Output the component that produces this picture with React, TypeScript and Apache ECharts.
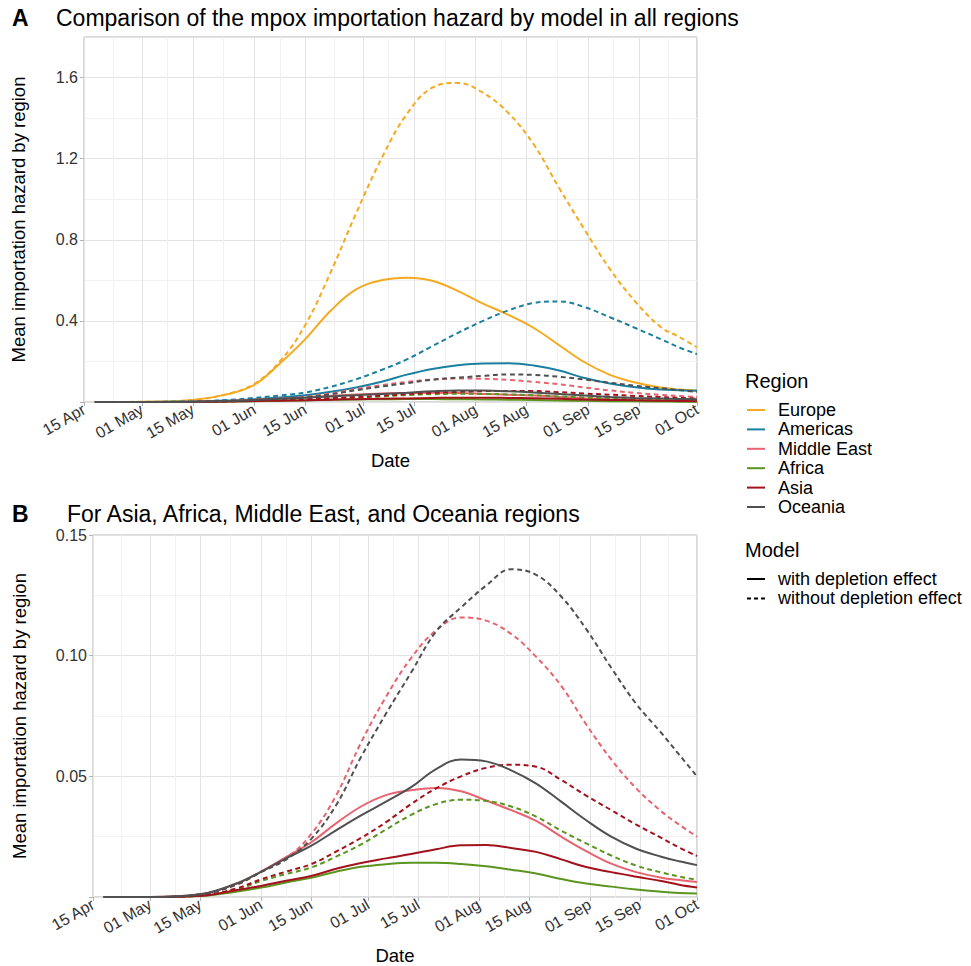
import React, { useEffect, useRef } from "react";
import * as echarts from "echarts";

// ---- data (day offsets from 15 Apr) ----
const DAYS = [3, 16, 30, 40, 47, 54, 61, 68, 75, 82, 89, 96, 103, 110, 117, 124, 131, 138, 145, 152, 159, 164, 169];
const TICK_DAYS = [0, 16, 30, 47, 61, 77, 91, 108, 122, 139, 153, 169];
const TICK_LABELS = ["15 Apr", "01 May", "15 May", "01 Jun", "15 Jun", "01 Jul", "15 Jul", "01 Aug", "15 Aug", "01 Sep", "15 Sep", "01 Oct"];

const EUROPE_WITH = [0, 0.001, 0.01, 0.04, 0.085, 0.19, 0.31, 0.45, 0.555, 0.6, 0.613, 0.598, 0.548, 0.485, 0.43, 0.365, 0.28, 0.196, 0.134, 0.096, 0.071, 0.062, 0.057];
const EUROPE_WITHOUT = [0, 0.001, 0.01, 0.042, 0.09, 0.2, 0.38, 0.64, 0.93, 1.2, 1.42, 1.55, 1.573, 1.525, 1.425, 1.27, 1.055, 0.85, 0.655, 0.495, 0.37, 0.322, 0.27];
const AMERICAS_WITH = [0, 0, 0.002, 0.007, 0.013, 0.022, 0.033, 0.05, 0.072, 0.1, 0.135, 0.163, 0.181, 0.19, 0.191, 0.18, 0.155, 0.118, 0.091, 0.073, 0.062, 0.058, 0.055];
const AMERICAS_WITHOUT = [0, 0, 0.003, 0.01, 0.02, 0.032, 0.047, 0.075, 0.112, 0.158, 0.21, 0.275, 0.34, 0.4, 0.452, 0.488, 0.496, 0.468, 0.418, 0.365, 0.31, 0.27, 0.236];
const MIDEAST_WITH = [0, 0, 0.0011, 0.0055, 0.0105, 0.0165, 0.0226, 0.0305, 0.0375, 0.0422, 0.0442, 0.0452, 0.0438, 0.04, 0.036, 0.0315, 0.025, 0.019, 0.0138, 0.0103, 0.008, 0.007, 0.0062];
const MIDEAST_WITHOUT = [0, 0, 0.0012, 0.005, 0.0105, 0.016, 0.026, 0.042, 0.064, 0.083, 0.099, 0.1105, 0.1158, 0.1145, 0.109, 0.0995, 0.0875, 0.0715, 0.057, 0.045, 0.0355, 0.03, 0.025];
const AFRICA_WITH = [0, 0, 0.0004, 0.0022, 0.0039, 0.006, 0.008, 0.0105, 0.0125, 0.0136, 0.0142, 0.0142, 0.0137, 0.0127, 0.0113, 0.0097, 0.0075, 0.0056, 0.0043, 0.0031, 0.0022, 0.0017, 0.0014];
const AFRICA_WITHOUT = [0, 0, 0.0005, 0.003, 0.0066, 0.0095, 0.0122, 0.0167, 0.0218, 0.028, 0.034, 0.0385, 0.0403, 0.0398, 0.0375, 0.0333, 0.0275, 0.0222, 0.0172, 0.013, 0.0102, 0.0085, 0.0071];
const ASIA_WITH = [0, 0, 0.0005, 0.0028, 0.0046, 0.0067, 0.0087, 0.0117, 0.0141, 0.016, 0.0178, 0.0198, 0.0214, 0.0215, 0.0203, 0.0187, 0.0156, 0.0124, 0.0103, 0.0084, 0.0066, 0.0051, 0.0039];
const ASIA_WITHOUT = [0, 0, 0.0006, 0.0035, 0.0073, 0.0105, 0.0136, 0.0188, 0.0245, 0.031, 0.0385, 0.045, 0.05, 0.0535, 0.0548, 0.054, 0.0485, 0.042, 0.036, 0.03, 0.0245, 0.0205, 0.017];
const OCEANIA_WITH = [0, 0, 0.0011, 0.0055, 0.0104, 0.016, 0.0212, 0.0276, 0.0338, 0.0395, 0.0455, 0.053, 0.057, 0.0562, 0.0525, 0.047, 0.0395, 0.0318, 0.025, 0.02, 0.0167, 0.0148, 0.0132];
const OCEANIA_WITHOUT = [0, 0, 0.0011, 0.005, 0.0103, 0.0155, 0.024, 0.038, 0.058, 0.076, 0.093, 0.11, 0.12, 0.129, 0.1358, 0.1335, 0.1245, 0.111, 0.095, 0.08, 0.068, 0.059, 0.05];

const REGIONS = ["Europe", "Americas", "Middle East", "Africa", "Asia", "Oceania"];
const MODELS = ["with depletion effect", "without depletion effect"];
const COLORS: Record<string, string> = {
  Europe: "#F5A91E",
  Americas: "#1B7F9F",
  "Middle East": "#E8636F",
  Africa: "#5B951F",
  Asia: "#A3121C",
  Oceania: "#505050",
};
const VALUES: Record<string, [number[], number[]]> = {
  Europe: [EUROPE_WITH, EUROPE_WITHOUT],
  Americas: [AMERICAS_WITH, AMERICAS_WITHOUT],
  "Middle East": [MIDEAST_WITH, MIDEAST_WITHOUT],
  Africa: [AFRICA_WITH, AFRICA_WITHOUT],
  Asia: [ASIA_WITH, ASIA_WITHOUT],
  Oceania: [OCEANIA_WITH, OCEANIA_WITHOUT],
};
const PANEL_B_REGIONS = ["Middle East", "Africa", "Asia", "Oceania"];

const FONT = "'Liberation Sans', Arial, Helvetica, sans-serif";
const MAJOR = "#E3E3E3";
const MINOR = "#F1F1F1";
const BORDER = "#B3B3B3";
const TICKTXT = "#333333";
const DASH = [5, 3.5];

const MINOR_DAYS = TICK_DAYS.slice(1).map((d, i) => (d + TICK_DAYS[i]) / 2);

function mainX(gridIndex: number) {
  return {
    type: "value",
    gridIndex,
    min: 0,
    max: 169,
    name: "Date",
    nameLocation: "middle",
    nameGap: 49,
    nameTextStyle: { fontSize: 18.5, color: "#000", fontFamily: FONT },
    axisLine: { show: false },
    axisTick: { show: true, customValues: TICK_DAYS, length: 4, lineStyle: { color: BORDER } },
    axisLabel: {
      customValues: TICK_DAYS,
      rotate: 30,
      fontSize: 16,
      color: TICKTXT,
      fontFamily: FONT,
      margin: 6,
      formatter: (v: number) => {
        const i = TICK_DAYS.indexOf(Math.round(v));
        return i >= 0 ? TICK_LABELS[i] : "";
      },
    },
    splitLine: { show: true, lineStyle: { color: MAJOR, width: 1 } },
  };
}
function minorX(gridIndex: number) {
  return {
    type: "value",
    gridIndex,
    min: 0,
    max: 169,
    position: "bottom",
    axisLine: { show: false },
    axisTick: { show: false, customValues: MINOR_DAYS },
    axisLabel: { show: false, customValues: MINOR_DAYS },
    splitLine: { show: true, lineStyle: { color: MINOR, width: 1 } },
    z: 0,
  };
}
function yAxis(gridIndex: number, max: number, interval: number, digits: number, gap: number) {
  return {
    type: "value",
    gridIndex,
    min: 0,
    max,
    interval,
    name: "Mean importation hazard by region",
    nameLocation: "middle",
    nameGap: gap,
    nameTextStyle: { fontSize: 18.5, color: "#000", fontFamily: FONT },
    axisLine: { show: false },
    axisTick: { show: true, length: 4, lineStyle: { color: BORDER } },
    axisLabel: {
      fontSize: 16,
      color: TICKTXT,
      fontFamily: FONT,
      margin: 6,
      showMaxLabel: digits === 2,
      formatter: (v: number) => (v === 0 ? "" : v.toFixed(digits)),
    },
    splitLine: { show: true, lineStyle: { color: MAJOR, width: 1 } },
    minorTick: { show: false, splitNumber: 2 },
    minorSplitLine: { show: true, lineStyle: { color: MINOR, width: 1 } },
  };
}

function seriesFor(region: string, modelIdx: number, panel: number) {
  const vals = VALUES[region][modelIdx];
  return {
    type: "line",
    name: `${region} – ${MODELS[modelIdx]}`,
    xAxisIndex: panel * 2,
    yAxisIndex: panel,
    data: DAYS.map((d, i) => [d, vals[i]]),
    showSymbol: false,
    symbol: "none",
    smooth: 0.4,
    silent: true,
    z: 3,
    lineStyle: { color: COLORS[region], width: 2, type: modelIdx === 0 ? "solid" : DASH },
  };
}

function legendGraphics() {
  const g: any[] = [];
  const x0 = 745;
  g.push({ type: "text", x: x0, y: 381, style: { text: "Region", fontSize: 20, fill: "#000", fontFamily: FONT, verticalAlign: "middle" } });
  REGIONS.forEach((r, i) => {
    const y = 410 + i * 19.4;
    g.push({ type: "line", shape: { x1: 747, y1: y, x2: 765, y2: y }, style: { stroke: COLORS[r], lineWidth: 2 } });
    g.push({ type: "text", x: 778, y, style: { text: r, fontSize: 18, fill: "#000", fontFamily: FONT, verticalAlign: "middle" } });
  });
  g.push({ type: "text", x: x0, y: 550, style: { text: "Model", fontSize: 20, fill: "#000", fontFamily: FONT, verticalAlign: "middle" } });
  MODELS.forEach((m, i) => {
    const y = 579 + i * 19.4;
    g.push({ type: "line", shape: { x1: 747, y1: y, x2: 765, y2: y }, style: { stroke: "#000", lineWidth: 2, lineDash: i === 0 ? null : [4, 3] } });
    g.push({ type: "text", x: 778, y, style: { text: m, fontSize: 18, fill: "#000", fontFamily: FONT, verticalAlign: "middle" } });
  });
  return g;
}

export default function App() {
  const ref = useRef<HTMLDivElement>(null);
  useEffect(() => {
    if (!ref.current) return;
    const chart = echarts.init(ref.current, undefined, { renderer: "svg" });
    const series: any[] = [];
    REGIONS.forEach((r) => {
      series.push(seriesFor(r, 1, 0));
      series.push(seriesFor(r, 0, 0));
    });
    PANEL_B_REGIONS.forEach((r) => {
      series.push(seriesFor(r, 1, 1));
      series.push(seriesFor(r, 0, 1));
    });
    chart.setOption({
      animation: false,
      backgroundColor: "#fff",
      textStyle: { fontFamily: FONT },
      grid: [
        { left: 84, top: 37, width: 613, height: 365, show: true, borderColor: BORDER, borderWidth: 1, backgroundColor: "transparent", containLabel: false },
        { left: 93, top: 535, width: 604, height: 363, show: true, borderColor: BORDER, borderWidth: 1, backgroundColor: "transparent", containLabel: false },
      ],
      xAxis: [mainX(0), minorX(0), mainX(1), minorX(1)],
      yAxis: [yAxis(0, 1.8, 0.4, 1, 56), yAxis(1, 0.15, 0.05, 2, 64)],
      series,
      graphic: [
        { type: "text", x: 12, y: 18, style: { text: "A", fontSize: 23, fontWeight: "bold", fill: "#000", fontFamily: FONT, verticalAlign: "middle" } },
        { type: "text", x: 56, y: 18, style: { text: "Comparison of the mpox importation hazard by model in all regions", fontSize: 23, fill: "#000", fontFamily: FONT, verticalAlign: "middle" } },
        { type: "text", x: 12, y: 514, style: { text: "B", fontSize: 23, fontWeight: "bold", fill: "#000", fontFamily: FONT, verticalAlign: "middle" } },
        { type: "text", x: 67, y: 514, style: { text: "For Asia, Africa, Middle East, and Oceania regions", fontSize: 23, fill: "#000", fontFamily: FONT, verticalAlign: "middle" } },
        ...legendGraphics(),
      ],
    });
    return () => chart.dispose();
  }, []);
  return <div ref={ref} style={{ width: 971, height: 966, position: "absolute", left: 0, top: 0 }} />;
}
